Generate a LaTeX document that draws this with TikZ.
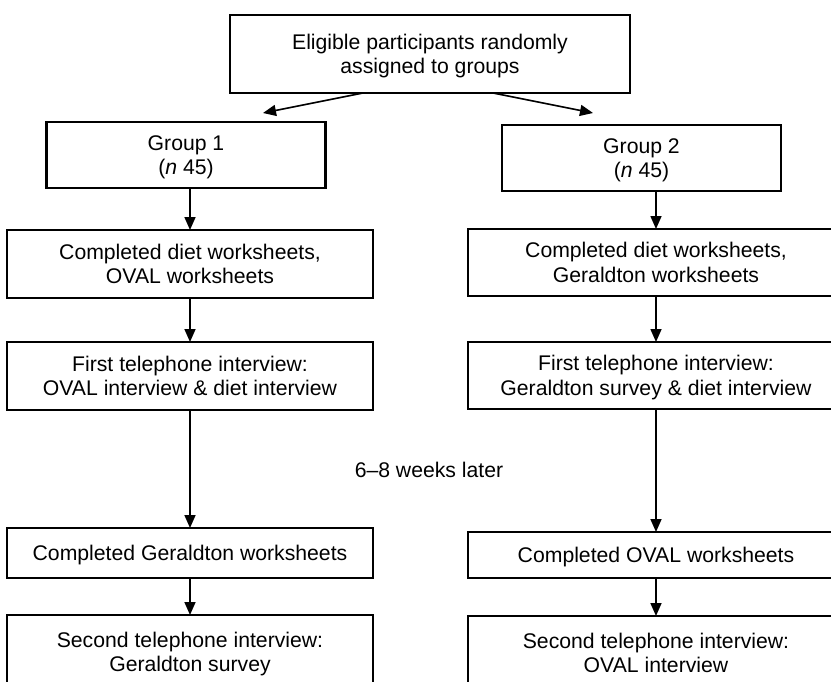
\documentclass[tikz,border=0pt]{standalone}
\usepackage{fontspec}
\setmainfont{Liberation Sans}
\usetikzlibrary{arrows.meta}

\begin{document}
\begin{tikzpicture}[x=1pt, y=-1pt,
  box/.style={draw=black, line width=2.8pt, align=center, inner sep=0pt, outer sep=0pt,
    minimum width=#1, text depth=0pt, font=\fontsize{21.2}{24.5}\selectfont},
  box/.default=366pt,
  arr/.style={line width=1.6pt, -{Triangle[width=11pt,length=13pt]}}]
\useasboundingbox (0,0) rectangle (831,681);
\clip (0,0) rectangle (831,681);

\node[box=400pt, minimum height=78pt] (top) at (430,54) {Eligible participants randomly\\assigned to groups};
\coordinate (tl) at (263,113);
\coordinate (tr) at (593,113);

\node[box=279pt, minimum height=66pt] (g1) at (186,155) {Group 1\\(\textit{n} 45)};
\node[box=279pt, minimum height=66pt] (g2) at (641.5,158) {Group 2\\(\textit{n} 45)};

% left column
\node[box, minimum height=68pt] (d1) at (190,264) {Completed diet worksheets,\\OVAL worksheets};
\node[box, minimum height=68pt] (t1) at (190,376) {First telephone interview:\\OVAL interview \& diet interview};
\node[box, minimum height=50pt] (c1) at (190,553) {Completed Geraldton worksheets};
\node[box, minimum height=74pt] (s1) at (190,652) {Second telephone interview:\\Geraldton survey};

% right column
\node[box=376pt, minimum height=67pt] (d2) at (656,262.5) {Completed diet worksheets,\\Geraldton worksheets};
\node[box=376pt, minimum height=67pt] (t2) at (656,375.5) {First telephone interview:\\Geraldton survey \& diet interview};
\node[box=376pt, minimum height=46pt] (c2) at (656,555) {Completed OVAL worksheets};
\node[box=376pt, minimum height=74pt] (s2) at (656,653) {Second telephone interview:\\OVAL interview};

\node[font=\fontsize{21.2}{24.5}\selectfont] (gap) at (429,470) {6--8 weeks later};

\draw[arr] ([xshift=-67pt]top.south) -- (tl);
\draw[arr] ([xshift=63pt]top.south) -- (tr);
\draw[arr] (g1.south -| d1) -- (d1.north);
\draw[arr] (d1) -- (t1);
\draw[arr] (t1) -- (c1);
\draw[arr] (c1) -- (s1);
\draw[arr] (g2.south -| d2) -- (d2.north);
\draw[arr] (d2) -- (t2);
\draw[arr] (t2) -- (c2);
\draw[arr] (c2) -- (s2);
\end{tikzpicture}
\end{document}
